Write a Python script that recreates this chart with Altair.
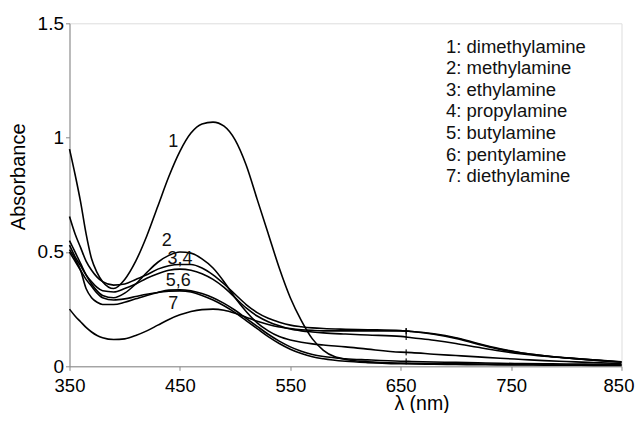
import altair as alt
import pandas as pd

# wavelength grid (nm)
wl = [350, 355, 360, 365, 370, 375, 380, 390, 400, 410, 420, 430, 440, 450, 460, 470, 480, 490, 500, 510,
      520, 530, 540, 550, 560, 570, 580, 600, 620, 650, 660, 680, 700, 720, 740, 760, 780, 800, 825, 850]

names = ["1: dimethylamine", "2: methylamine", "3: ethylamine", "4: propylamine",
         "5: butylamine", "6: pentylamine", "7: diethylamine"]

c1 = [0.95, 0.84, 0.72, 0.58, 0.47, 0.41, 0.37, 0.34, 0.38, 0.46, 0.57, 0.70, 0.83, 0.94, 1.02, 1.06, 1.068, 1.05, 0.99, 0.88,
      0.73, 0.58, 0.43, 0.30, 0.20, 0.12, 0.07, 0.03, 0.02, 0.014, 0.013, 0.012, 0.011, 0.01, 0.009, 0.008, 0.007, 0.006, 0.006, 0.005]
c2 = [0.55, 0.50, 0.45, 0.40, 0.36, 0.33, 0.31, 0.30, 0.32, 0.36, 0.41, 0.455, 0.485, 0.50, 0.495, 0.47, 0.43, 0.37, 0.30, 0.24,
      0.19, 0.155, 0.13, 0.115, 0.105, 0.098, 0.093, 0.085, 0.075, 0.062, 0.06, 0.053, 0.047, 0.041, 0.035, 0.03, 0.025, 0.021, 0.016, 0.012]
c3 = [0.655, 0.58, 0.52, 0.46, 0.42, 0.39, 0.37, 0.355, 0.36, 0.38, 0.40, 0.425, 0.44, 0.445, 0.445, 0.43, 0.40, 0.36, 0.315, 0.27,
      0.235, 0.21, 0.193, 0.18, 0.173, 0.168, 0.165, 0.162, 0.16, 0.156, 0.152, 0.14, 0.122, 0.097, 0.074, 0.058, 0.046, 0.037, 0.027, 0.019]
c4 = [0.53, 0.48, 0.44, 0.40, 0.37, 0.345, 0.33, 0.325, 0.34, 0.36, 0.385, 0.405, 0.42, 0.425, 0.42, 0.405, 0.38, 0.345, 0.30, 0.255,
      0.22, 0.195, 0.177, 0.163, 0.155, 0.15, 0.146, 0.141, 0.137, 0.131, 0.125, 0.114, 0.10, 0.083, 0.067, 0.054, 0.044, 0.036, 0.027, 0.018]
c5 = [0.51, 0.47, 0.42, 0.34, 0.30, 0.28, 0.27, 0.27, 0.28, 0.295, 0.31, 0.323, 0.333, 0.335, 0.33, 0.318, 0.30, 0.275, 0.245, 0.21,
      0.175, 0.14, 0.11, 0.085, 0.066, 0.052, 0.043, 0.033, 0.028, 0.022, 0.021, 0.019, 0.017, 0.015, 0.013, 0.012, 0.011, 0.01, 0.009, 0.008]
c6 = [0.50, 0.46, 0.42, 0.38, 0.35, 0.32, 0.30, 0.29, 0.295, 0.305, 0.315, 0.323, 0.328, 0.33, 0.325, 0.31, 0.29, 0.265, 0.235, 0.20,
      0.165, 0.13, 0.10, 0.075, 0.056, 0.042, 0.033, 0.022, 0.016, 0.011, 0.01, 0.009, 0.008, 0.007, 0.006, 0.006, 0.005, 0.005, 0.004, 0.004]
c7 = [0.25, 0.22, 0.195, 0.17, 0.15, 0.135, 0.125, 0.117, 0.12, 0.135, 0.155, 0.18, 0.205, 0.225, 0.24, 0.248, 0.25, 0.245, 0.232, 0.215,
      0.197, 0.183, 0.172, 0.165, 0.16, 0.157, 0.155, 0.155, 0.155, 0.155, 0.152, 0.142, 0.125, 0.10, 0.077, 0.058, 0.046, 0.037, 0.028, 0.02]

series = [c1, c2, c3, c4, c5, c6, c7]

# detector-change glitch marks near 655 nm (absorbance of the curves there)
glitch_wl = [655, 655, 655, 655, 655]
glitch_abs = [0.154, 0.1535, 0.128, 0.061, 0.0215]

# curve annotations (data coordinates)
ann_text = ["1", "2", "3,4", "5,6", "7"]
ann_wl = [444, 438, 450, 448.5, 444]
ann_abs = [0.98, 0.546, 0.469, 0.371, 0.274]

rows = []
for name, vals in zip(names, series):
    for w, a in zip(wl, vals):
        rows.append({"series": name, "wl": w, "A": a})
df = pd.DataFrame(rows)
ann = pd.DataFrame({"t": ann_text, "wl": ann_wl, "A": ann_abs})
gl = pd.DataFrame({"wl": glitch_wl, "A": glitch_abs})

FONT = "Liberation Sans"

x_enc = alt.X("wl:Q", scale=alt.Scale(domain=[350, 850], nice=False, zero=False),
              axis=alt.Axis(values=[350, 450, 550, 650, 750, 850], title="λ (nm)", grid=False,
                            tickSize=4, labelPadding=6, labelFontSize=18.5, titleFontSize=19.5,
                            titleFontWeight="normal", titleX=352, titleY=28.6, titleBaseline="top",
                            labelFlush=False,
                            labelOffset=alt.ExprRef("datum.value == 850 ? -3 : 0")))
y_enc = alt.Y("A:Q", scale=alt.Scale(domain=[0, 1.5], nice=False),
              axis=alt.Axis(values=[0, 0.5, 1, 1.5], format="~g", title="Absorbance", grid=False,
                            tickSize=4, labelPadding=2, labelFontSize=19, titleFontSize=20,
                            titleFontWeight="normal", titleX=-41, titleY=153))

lines = alt.Chart(df).mark_line(strokeWidth=1.6, interpolate="monotone").encode(
    x=x_enc,
    y=y_enc,
    color=alt.Color("series:N", sort=names,
                    scale=alt.Scale(domain=names, range=["#000000"] * 7),
                    legend=alt.Legend(title=None, orient="none", legendX=358, legendY=14,
                                      symbolSize=0, symbolStrokeWidth=0, symbolType="stroke",
                                      labelFontSize=18.5, labelFont=FONT, labelColor="#111",
                                      labelOffset=0, rowPadding=2.6, labelLimit=400)),
)

glitches = alt.Chart(gl).mark_tick(orient="vertical", size=6, thickness=1.6, color="#000").encode(
    x=alt.X("wl:Q"), y=alt.Y("A:Q"))

labels = alt.Chart(ann).mark_text(fontSize=18, font=FONT, color="#111", align="center",
                                  baseline="middle").encode(
    x=alt.X("wl:Q"), y=alt.Y("A:Q"), text="t:N")

chart = alt.layer(lines, glitches, labels).properties(
    width=552, height=343,
    autosize=alt.AutoSizeParams(type="none"),
    padding={"left": 61.5, "top": 15.3, "right": 13.5, "bottom": 47},
).configure_view(stroke=None).configure_axis(
    labelFont=FONT, titleFont=FONT, labelColor="#111", titleColor="#111",
    domainColor="#444", tickColor="#444", domainWidth=1.2, tickWidth=1.2,
).configure(background="white")

chart.save("out.html", embed_options={"renderer": "svg", "actions": False})
